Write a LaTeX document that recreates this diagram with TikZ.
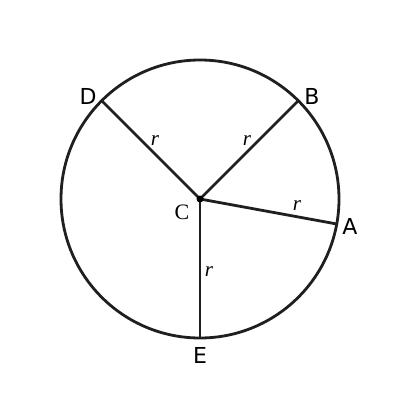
\documentclass[tikz,border=0pt]{standalone}
\usepackage{fontspec}
\setmainfont{Liberation Serif}
\newfontfamily\lblfont{DejaVu Sans}
\usetikzlibrary{calc}
\begin{document}
\begin{tikzpicture}[x=1pt,y=-1pt,
  rad/.style={line width=2.8pt,black!88},
  ptlbl/.style={font=\lblfont\fontsize{22}{22}\selectfont,inner sep=0pt},
  rlbl/.style={font=\fontsize{21}{21}\selectfont\itshape,inner sep=0pt}]
\useasboundingbox (0,0) rectangle (400,400);
\coordinate (C) at (200,199);
\draw[rad] (C) circle (139);
\coordinate (B) at (298.3,100.7);
\coordinate (D) at (101.7,100.7);
\coordinate (A) at (336.8,224.0);
\coordinate (E) at (200,338);
\draw[rad] (C) -- (B);
\draw[rad] (C) -- (D);
\draw[rad] (C) -- (A);
\draw[rad] (C) -- (E);
\fill[black] (C) circle (3.5);
\node[ptlbl] (lD) at (88,96) {D};
\node[ptlbl] (lB) at (312,96) {B};
\node[ptlbl] (lA) at (350,226) {A};
\node[ptlbl] (lE) at (200,355) {E};
\node[font=\fontsize{22}{22}\selectfont,inner sep=0pt] (lC) at (182,212) {C};
\node[rlbl] (r1) at (155,141) {r};
\node[rlbl] (r2) at (247,141) {r};
\node[rlbl] (r3) at (297,206) {r};
\node[rlbl] (r4) at (209,272) {r};
\end{tikzpicture}
\end{document}
